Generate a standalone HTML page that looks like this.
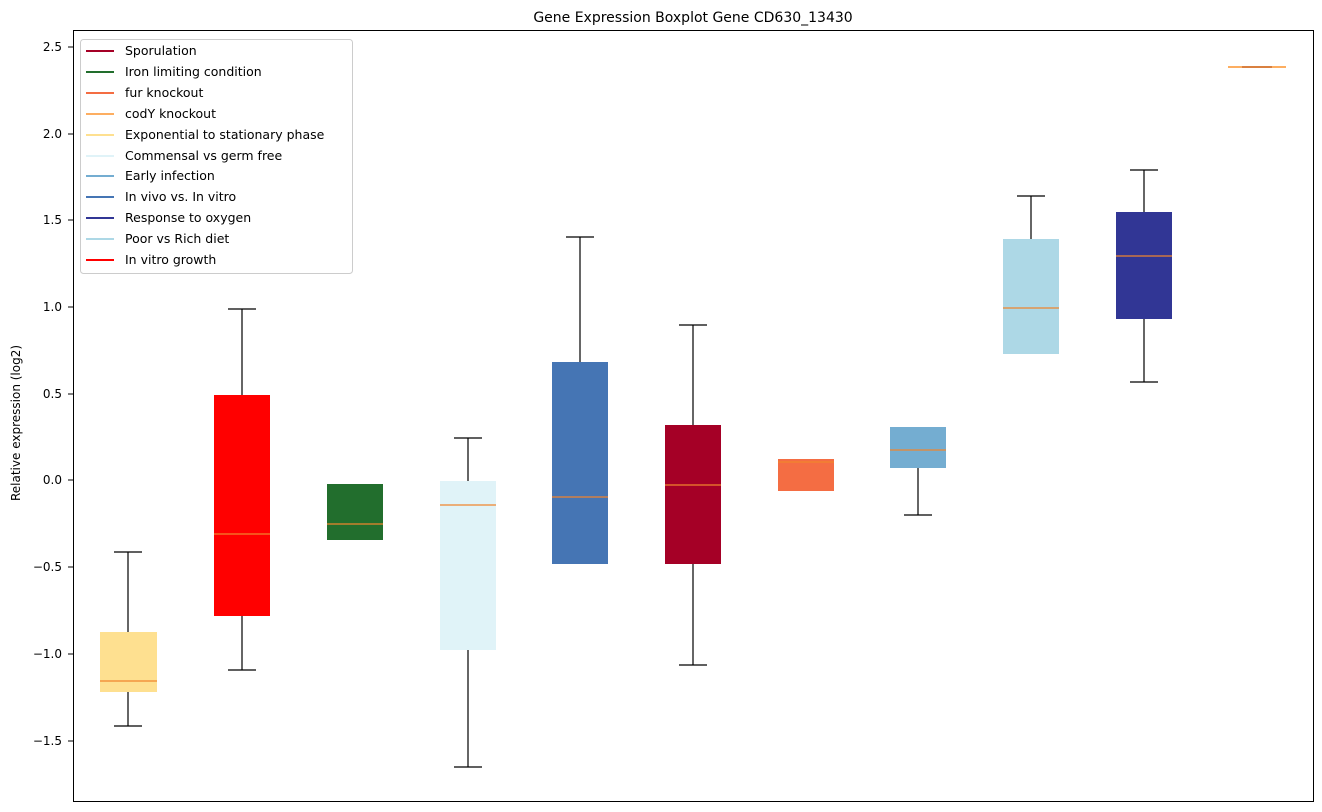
<!DOCTYPE html>
<html><head><style>body{margin:0;background:#fff}svg{display:block}text{font-family:"DejaVu Sans","Liberation Sans",sans-serif}</style></head><body>
<svg width="1322" height="812" xmlns="http://www.w3.org/2000/svg">
<rect width="1322" height="812" fill="#fff"/>
<text x="693" y="22" font-size="14" text-anchor="middle">Gene Expression Boxplot Gene CD630_13430</text>
<text transform="translate(20,423) rotate(-90)" font-size="12" text-anchor="middle">Relative expression (log2)</text>
<g font-size="12" text-anchor="end">
<text x="62" y="51">2.5</text><text x="62" y="138">2.0</text><text x="62" y="224">1.5</text><text x="62" y="311">1.0</text><text x="62" y="398">0.5</text><text x="62" y="484">0.0</text><text x="62" y="571">−0.5</text><text x="62" y="658">−1.0</text><text x="62" y="745">−1.5</text>
</g>
<g stroke="#000"><line x1="68" x2="73" y1="47" y2="47"/><line x1="68" x2="73" y1="134" y2="134"/><line x1="68" x2="73" y1="220" y2="220"/><line x1="68" x2="73" y1="307" y2="307"/><line x1="68" x2="73" y1="394" y2="394"/><line x1="68" x2="73" y1="480" y2="480"/><line x1="68" x2="73" y1="567" y2="567"/><line x1="68" x2="73" y1="654" y2="654"/><line x1="68" x2="73" y1="741" y2="741"/></g>
<g stroke="#000" stroke-width="1.2">
<line x1="128" x2="128" y1="552" y2="726"/><line x1="114" x2="142" y1="552" y2="552"/><line x1="114" x2="142" y1="726" y2="726"/>
<line x1="242" x2="242" y1="309" y2="670"/><line x1="228" x2="256" y1="309" y2="309"/><line x1="228" x2="256" y1="670" y2="670"/>
<line x1="468" x2="468" y1="438" y2="767"/><line x1="454" x2="482" y1="438" y2="438"/><line x1="454" x2="482" y1="767" y2="767"/>
<line x1="580" x2="580" y1="237" y2="564"/><line x1="566" x2="594" y1="237" y2="237"/>
<line x1="693" x2="693" y1="325" y2="665"/><line x1="679" x2="707" y1="325" y2="325"/><line x1="679" x2="707" y1="665" y2="665"/>
<line x1="918" x2="918" y1="427" y2="515"/><line x1="904" x2="932" y1="515" y2="515"/>
<line x1="1031" x2="1031" y1="196" y2="354"/><line x1="1017" x2="1045" y1="196" y2="196"/>
<line x1="1144" x2="1144" y1="170" y2="382"/><line x1="1130" x2="1158" y1="170" y2="170"/><line x1="1130" x2="1158" y1="382" y2="382"/>
</g>
<rect x="100" y="632" width="57" height="60" fill="#FEE090"/>
<rect x="214" y="395" width="56" height="221" fill="#FF0000"/>
<rect x="327" y="484" width="56" height="56" fill="#226E2D"/>
<rect x="440" y="481" width="56" height="169" fill="#E0F3F8"/>
<rect x="552" y="362" width="56" height="202" fill="#4575B4"/>
<rect x="665" y="425" width="56" height="139" fill="#A50026"/>
<rect x="778" y="459" width="56" height="32" fill="#F46D43"/>
<rect x="890" y="427" width="56" height="41" fill="#74ADD1"/>
<rect x="1003" y="239" width="56" height="115" fill="#ADD8E6"/>
<rect x="1116" y="212" width="56" height="107" fill="#313695"/>
<g stroke="#F0852D" stroke-width="1.2">
<line x1="100" x2="157" y1="681" y2="681"/><line x1="214" x2="270" y1="534" y2="534"/><line x1="327" x2="383" y1="524" y2="524"/><line x1="440" x2="496" y1="505" y2="505"/><line x1="552" x2="608" y1="497" y2="497"/><line x1="665" x2="721" y1="485" y2="485"/><line x1="778" x2="834" y1="462" y2="462"/><line x1="890" x2="946" y1="450" y2="450"/><line x1="1003" x2="1059" y1="308" y2="308"/><line x1="1116" x2="1172" y1="256" y2="256"/>
</g>
<line x1="1228" x2="1286" y1="67" y2="67" stroke="#FDAE61" stroke-width="2"/>
<line x1="1242" x2="1272" y1="67" y2="67" stroke="#D98040" stroke-width="2"/>
<rect x="73.5" y="30.5" width="1240" height="771" fill="none" stroke="#000"/>
<rect x="80.5" y="39.5" width="272" height="234" rx="3" fill="#fff" fill-opacity="0.85" stroke="#ccc"/>
<g stroke-width="2">
<line x1="86" x2="114" y1="51" y2="51" stroke="#A50026"/><line x1="86" x2="114" y1="72" y2="72" stroke="#226E2D"/><line x1="86" x2="114" y1="93" y2="93" stroke="#F46D43"/><line x1="86" x2="114" y1="114" y2="114" stroke="#FDAE61"/><line x1="86" x2="114" y1="135" y2="135" stroke="#FEE090"/><line x1="86" x2="114" y1="156" y2="156" stroke="#E0F3F8"/><line x1="86" x2="114" y1="176" y2="176" stroke="#74ADD1"/><line x1="86" x2="114" y1="197" y2="197" stroke="#4575B4"/><line x1="86" x2="114" y1="218" y2="218" stroke="#313695"/><line x1="86" x2="114" y1="239" y2="239" stroke="#ADD8E6"/><line x1="86" x2="114" y1="260" y2="260" stroke="#FF0000"/>
</g>
<g font-size="12.5">
<text x="125" y="55">Sporulation</text><text x="125" y="76">Iron limiting condition</text><text x="125" y="97">fur knockout</text><text x="125" y="118">codY knockout</text><text x="125" y="139">Exponential to stationary phase</text><text x="125" y="160">Commensal vs germ free</text><text x="125" y="180">Early infection</text><text x="125" y="201">In vivo vs. In vitro</text><text x="125" y="222">Response to oxygen</text><text x="125" y="243">Poor vs Rich diet</text><text x="125" y="264">In vitro growth</text>
</g>
</svg>
</body></html>
